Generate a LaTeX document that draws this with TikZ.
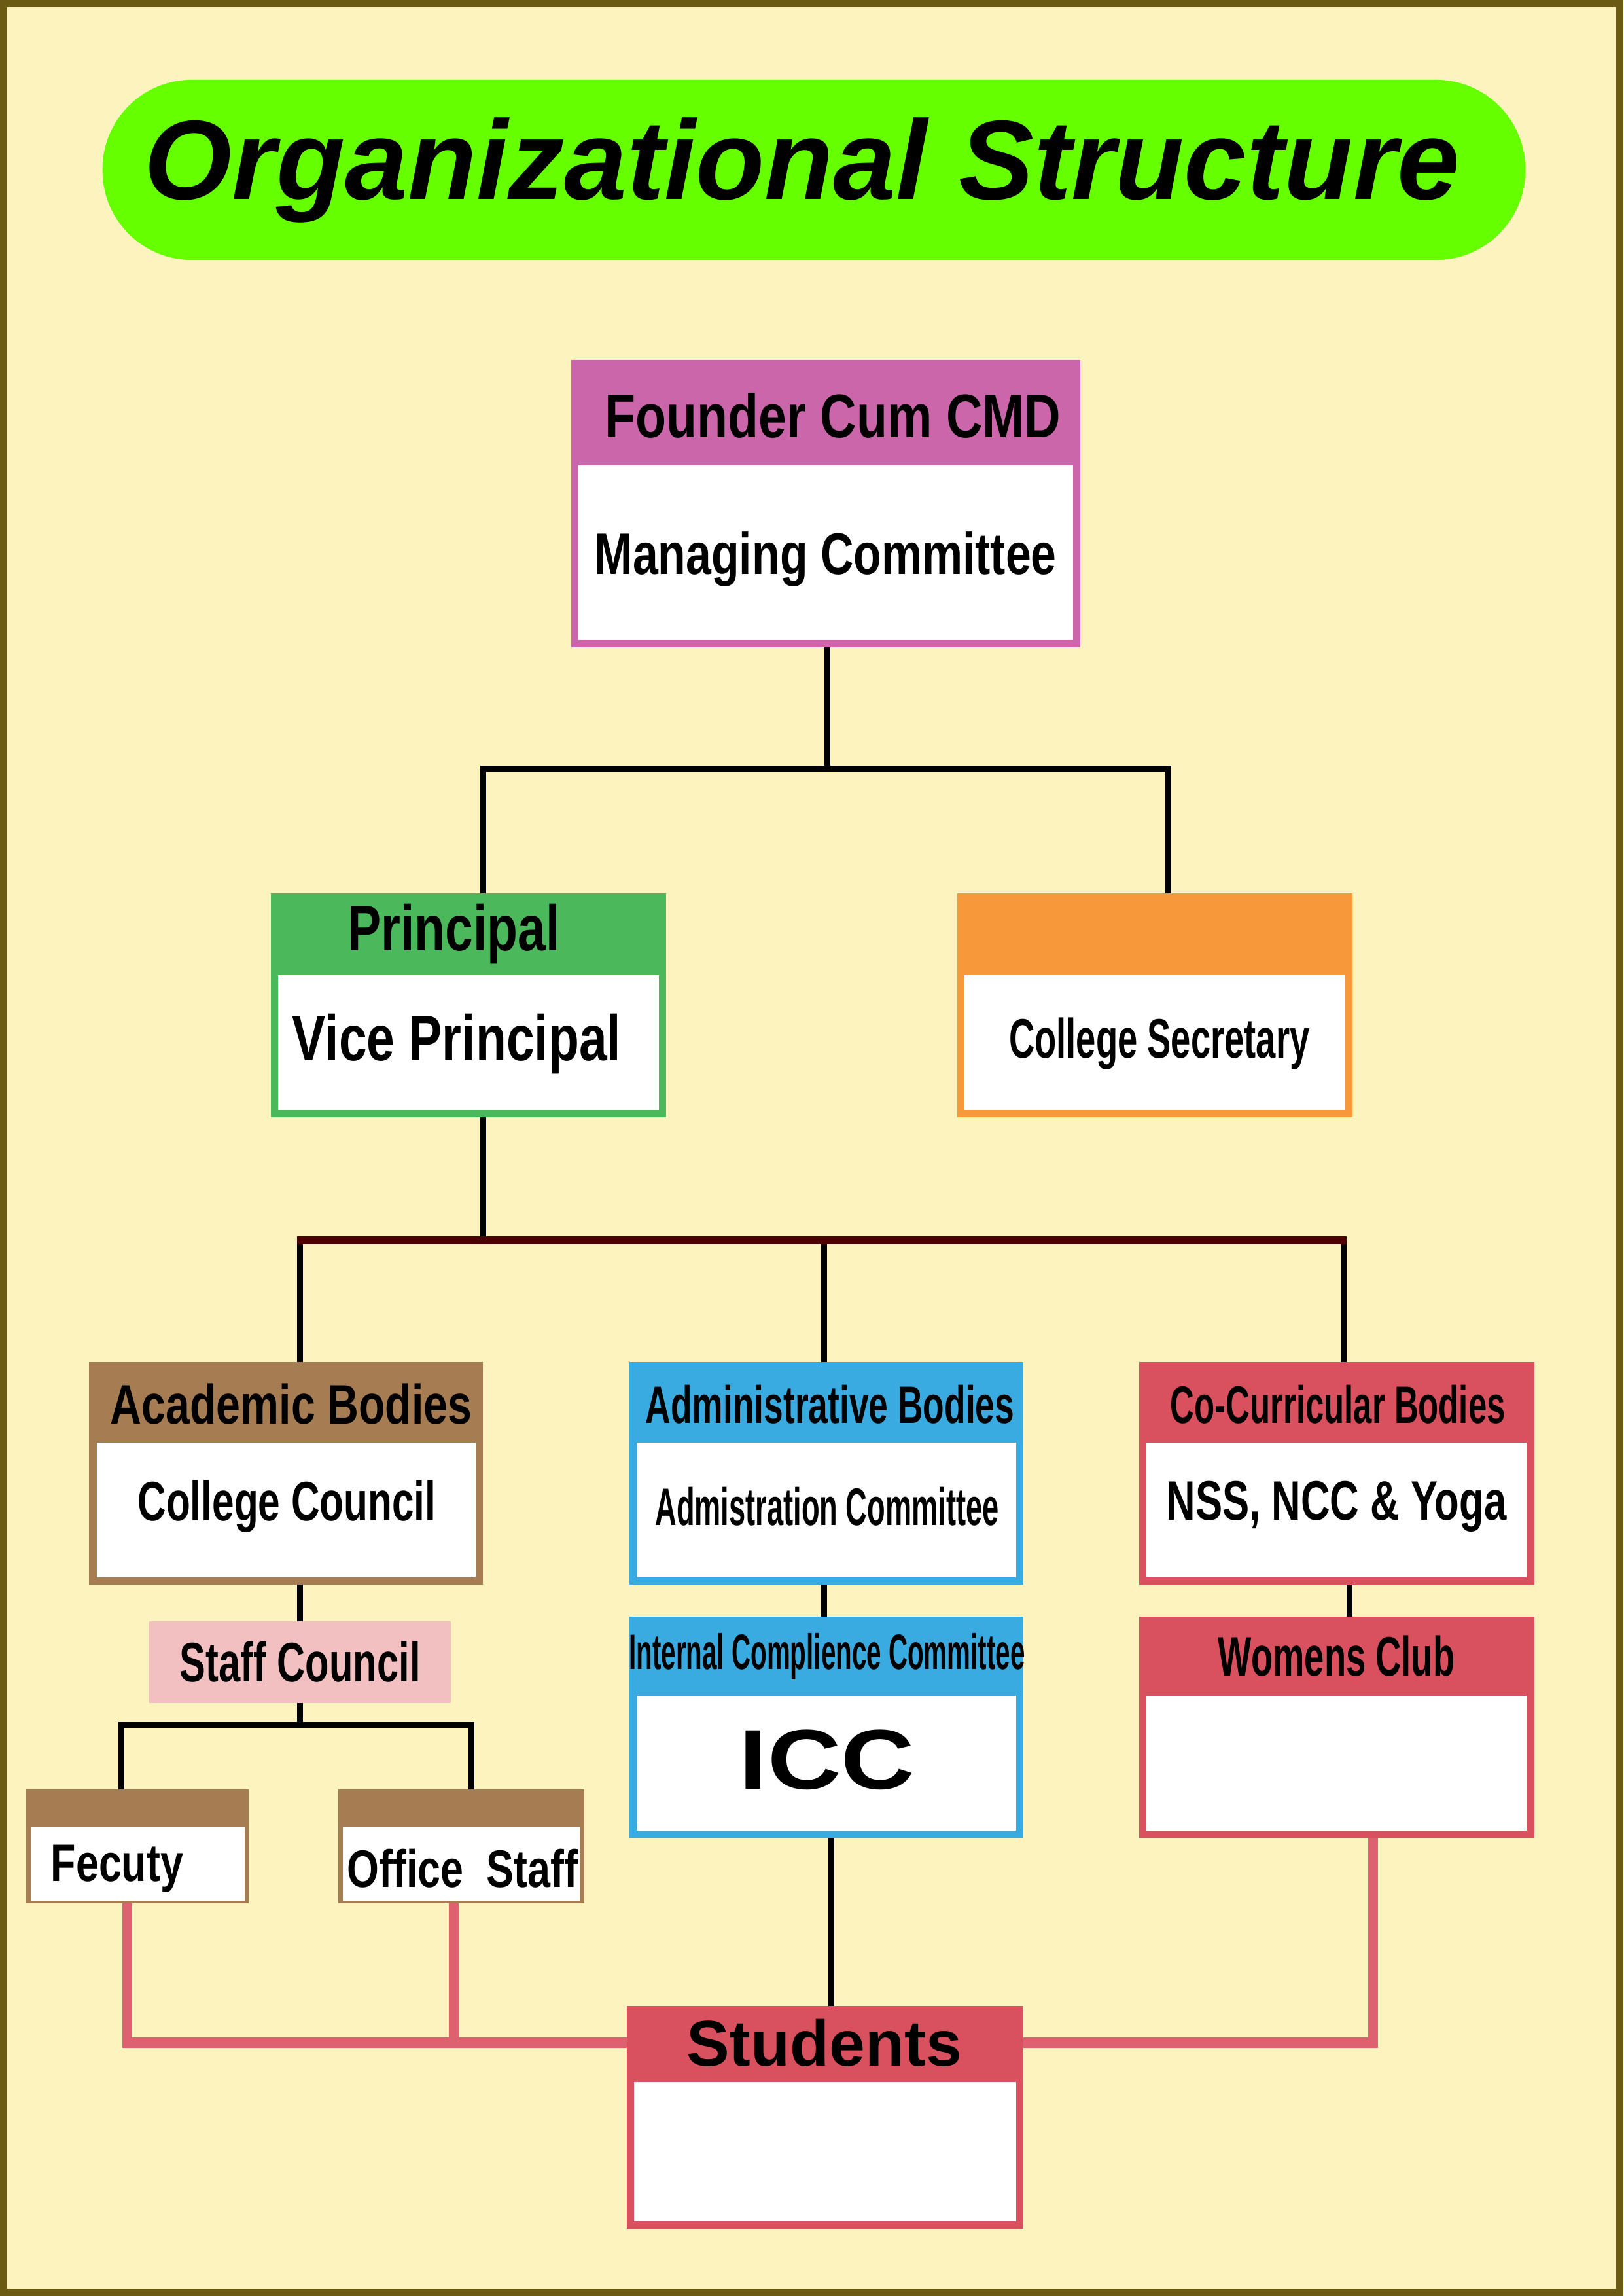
\documentclass[tikz,border=0pt]{standalone}
\usepackage{fontspec}
\usepackage{graphicx}
\setmainfont{Liberation Sans}
\newfontfamily\cond[FakeStretch=0.78]{Liberation Sans}
\newfontfamily\wide[FakeStretch=1.2]{Liberation Sans}
\usetikzlibrary{calc}
\definecolor{bgy}{HTML}{FCF3BF}
\definecolor{frame}{HTML}{6B5A14}
\definecolor{titleg}{HTML}{66FF00}
\definecolor{cpink}{HTML}{CC66AA}
\definecolor{cgreen}{HTML}{4CB85C}
\definecolor{corange}{HTML}{F7993A}
\definecolor{cbrown}{HTML}{A67C52}
\definecolor{cblue}{HTML}{3AABE0}
\definecolor{cred}{HTML}{D9505E}
\definecolor{cstaff}{HTML}{F2C0C0}
\definecolor{dline}{HTML}{4A0000}
\tikzset{
 blk/.style={line width=4pt,black},
 rline/.style={line width=7pt,color=cred!90!white},
 txt/.style={font=\cond\bfseries, text=black, inner sep=0pt},
}
\newcommand\sx[2]{\scalebox{#1}[1]{#2}}
% #1 name, #2 x1, #3 y1, #4 x2, #5 y2, #6 header bottom, #7 color
\newcommand\orgbox[7]{%
 \fill[#7] (#2,#3) rectangle (#4,#5);
 \fill[white] ($(#2,#6)+(5,0)$) rectangle ($(#4,#5)+(-5,-5)$);
}
\begin{document}
\begin{tikzpicture}[x=1pt,y=-1pt]
\useasboundingbox (0,0) rectangle (1109,1568);
\fill[bgy] (0,0) rectangle (1109,1568);
\draw[frame,line width=5pt] (2.5,2.5) rectangle (1106.5,1565.5);
% title
\node[fill=titleg, rounded corners=61pt, minimum width=972pt, minimum height=123pt, inner sep=0pt] (title) at (556,116) {};
\node[font=\fontsize{77}{82}\selectfont\bfseries\itshape, inner sep=0pt] (titletext) at (548,116) {Organizational Structure};
% connectors
\draw[blk] (565,442) -- (565,525);
\draw[blk] (330,610) -- (330,525) -- (798,525) -- (798,610);
\draw[blk] (330,763) -- (330,847);
\draw[blk] (205,930) -- (205,847);
\draw[blk] (563,930) -- (563,847);
\draw[blk] (918,930) -- (918,847);
\draw[line width=5pt,dline] (203,847) -- (920,847);
\draw[blk] (205,1082) -- (205,1107);
\draw[blk] (205,1163) -- (205,1178);
\draw[blk] (83,1222) -- (83,1178) -- (322,1178) -- (322,1222);
\draw[blk] (563,1082) -- (563,1104);
\draw[blk] (922,1082) -- (922,1104);
\draw[blk] (568,1255) -- (568,1370);
\draw[rline] (87,1300) -- (87,1395) -- (430,1395);
\draw[rline] (310,1300) -- (310,1395);
\draw[rline] (938,1255) -- (938,1395) -- (697,1395);
% boxes
\orgbox{fc}{390}{246}{738}{442}{318}{cpink}
\node[txt,font=\fontsize{42}{46}\selectfont\cond\bfseries] (fch) at (569,284) {\sx{1.05}{Founder Cum CMD}};
\node[txt,font=\fontsize{40}{44}\selectfont\cond\bfseries] (fcb) at (564,382) {Managing Committee};
\orgbox{pr}{185}{610}{455}{763}{666}{cgreen}
\node[txt,font=\fontsize{44}{48}\selectfont\cond\bfseries] (prh) at (310,638) {Principal};
\node[txt,font=\fontsize{44}{48}\selectfont\cond\bfseries] (prb) at (312,713) {Vice Principal};
\orgbox{cs}{654}{610}{924}{763}{666}{corange}
\node[txt,font=\fontsize{38}{42}\selectfont\cond\bfseries] (csb) at (792,713) {\sx{0.82}{College Secretary}};
\orgbox{ab}{61}{930}{330}{1082}{985}{cbrown}
\node[txt,font=\fontsize{38}{42}\selectfont\cond\bfseries] (abh) at (199,959) {Academic Bodies};
\node[txt,font=\fontsize{38}{42}\selectfont\cond\bfseries] (abb) at (196,1029) {\sx{0.91}{College Council}};
\orgbox{ad}{430}{930}{699}{1082}{985}{cblue}
\node[txt,font=\fontsize{36}{40}\selectfont\cond\bfseries] (adh) at (567,959) {\sx{0.85}{Administrative Bodies}};
\node[txt,font=\fontsize{36}{40}\selectfont\cond\bfseries] (adb) at (565,1029) {\sx{0.72}{Admistration Committee}};
\orgbox{cc}{778}{930}{1048}{1082}{985}{cred}
\node[txt,font=\fontsize{36}{40}\selectfont\cond\bfseries] (cch) at (914,959) {\sx{0.81}{Co-Curricular Bodies}};
\node[txt,font=\fontsize{38}{42}\selectfont\cond\bfseries] (ccb) at (913,1029) {\sx{0.93}{NSS, NCC \& Yoga}};
\node[fill=cstaff, minimum width=206pt, minimum height=56pt, inner sep=0pt] (sc) at (205,1135) {};
\node[txt,font=\fontsize{38}{42}\selectfont\cond\bfseries] (sct) at (205,1135) {\sx{0.9}{Staff Council}};
\orgbox{ic}{430}{1104}{699}{1255}{1158}{cblue}
\node[txt,font=\fontsize{34}{38}\selectfont\cond\bfseries] (ich) at (565,1131) {\sx{0.68}{Internal Complience Committee}};
\node[txt,font=\fontsize{58}{62}\selectfont\wide\bfseries] (icb) at (565,1202) {ICC};
\orgbox{wc}{778}{1104}{1048}{1255}{1158}{cred}
\node[txt,font=\fontsize{38}{42}\selectfont\cond\bfseries] (wch) at (913,1131) {\sx{0.82}{Womens Club}};
\fill[cbrown] (18,1222) rectangle (170,1300);
\fill[white] (21,1248) rectangle (167,1298);
\node[txt,font=\fontsize{36}{40}\selectfont\cond\bfseries] (fe) at (80,1276) {Fecuty};
\fill[cbrown] (231,1222) rectangle (399,1300);
\fill[white] (234,1248) rectangle (396,1298);
\node[txt,font=\fontsize{36}{40}\selectfont\cond\bfseries] (os) at (316,1276) {Office~~Staff};
\orgbox{st}{428}{1370}{699}{1522}{1422}{cred}
\node[txt,font=\fontsize{44}{48}\selectfont\bfseries] (sth) at (563,1395) {Students};
\end{tikzpicture}
\end{document}
